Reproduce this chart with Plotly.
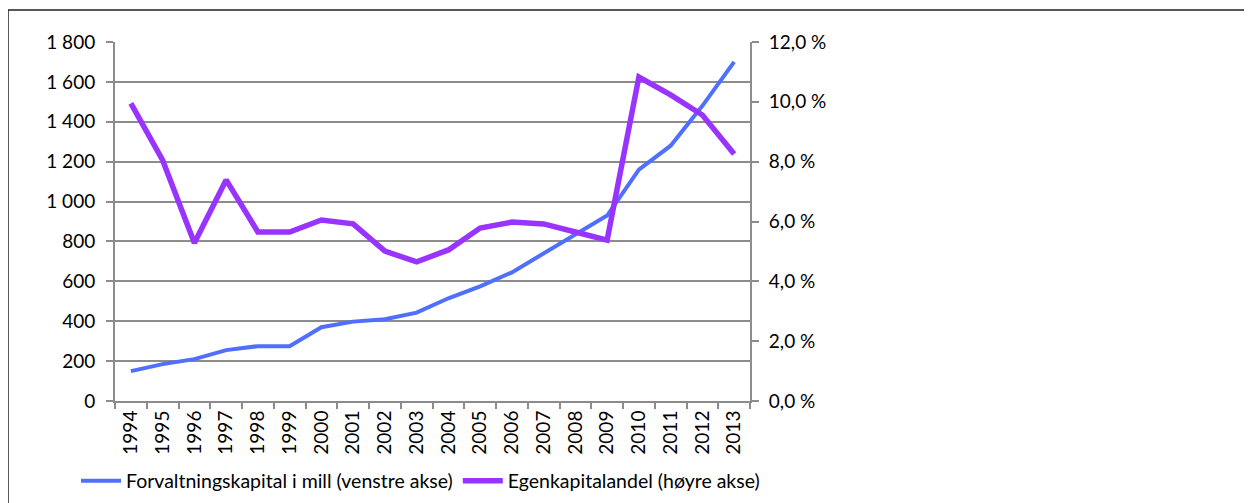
import plotly.graph_objects as go

years = [str(y) for y in range(1994, 2014)]
forvaltningskapital = [150, 185, 210, 255, 275, 275, 370, 398, 410, 443, 515, 575, 645, 740, 830, 930, 1160, 1280, 1480, 1700]
egenkapitalandel = [9.95, 8.05, 5.28, 7.39, 5.65, 5.65, 6.05, 5.92, 5.01, 4.65, 5.05, 5.78, 5.98, 5.92, 5.65, 5.38, 10.83, 10.23, 9.56, 8.26]

left_ticks = list(range(0, 1801, 200))
left_labels = ["0", "200", "400", "600", "800", "1 000", "1 200", "1 400", "1 600", "1 800"]
right_ticks = [0, 2, 4, 6, 8, 10, 12]
right_labels = ["0,0 %", "2,0 %", "4,0 %", "6,0 %", "8,0 %", "10,0 %", "12,0 %"]

BLUE = "#4F6FFF"
PURPLE = "#9933FF"
GRID = "#8C8C8C"
FONT = "Lato"

fig = go.Figure()
fig.add_trace(go.Scatter(x=years, y=forvaltningskapital, mode="lines",
                         name="Forvaltningskapital i mill (venstre akse)",
                         line=dict(color=BLUE, width=4)))
fig.add_trace(go.Scatter(x=years, y=egenkapitalandel, mode="lines",
                         name="Egenkapitalandel (høyre akse)", yaxis="y2",
                         line=dict(color=PURPLE, width=5.5)))

# page has an 8px body margin; work in figure pixels (page - 8)
OFF = 8
W, H = 1252 - OFF, 503 - OFF
L, R, T, B = 115 - OFF, 750 - OFF, 42 - OFF, 401 - OFF
pw, ph = R - L, B - T

fig.update_layout(
    width=W, height=H,
    margin=dict(l=L, r=W - R, t=T, b=H - B, autoexpand=False),
    paper_bgcolor="white", plot_bgcolor="white",
    font=dict(family=FONT, size=19, color="black"),
    showlegend=True,
    legend=dict(orientation="h", x=(76 - OFF - L) / pw, xanchor="left",
                y=(B - (481 - OFF)) / ph, yanchor="middle",
                font=dict(size=19.5), itemwidth=40, traceorder="normal"),
    xaxis=dict(type="category", tickangle=-90, tickson="boundaries",
               ticks="outside", ticklen=6, tickcolor=GRID, tickwidth=2,
               showline=True, linecolor=GRID, linewidth=2, automargin=False,
               showgrid=False, tickfont=dict(size=19), range=[-0.5, 19.5]),
    yaxis=dict(range=[0, 1800], tickvals=left_ticks, ticktext=left_labels,
               ticks="outside", ticklen=7, tickcolor=GRID, tickwidth=2,
               ticklabelstandoff=7,
               showline=True, linecolor=GRID, linewidth=2, automargin=False,
               showgrid=True, gridcolor=GRID, gridwidth=2, zeroline=False),
    yaxis2=dict(range=[0, 12], tickvals=right_ticks, ticktext=right_labels,
                overlaying="y", side="right", automargin=False,
                ticks="outside", ticklen=7, tickcolor=GRID, tickwidth=2,
                ticklabelstandoff=6,
                showline=True, linecolor=GRID, linewidth=2,
                showgrid=False, zeroline=False),
    shapes=[dict(type="rect", xref="paper", yref="paper",
                 x0=(8 - OFF - L) / pw, x1=(1300 - L) / pw,
                 y0=(B - 560) / ph, y1=(B - (10 - OFF)) / ph,
                 line=dict(color="#222222", width=1.5), layer="below")],
)

fig.write_html("out.html")
